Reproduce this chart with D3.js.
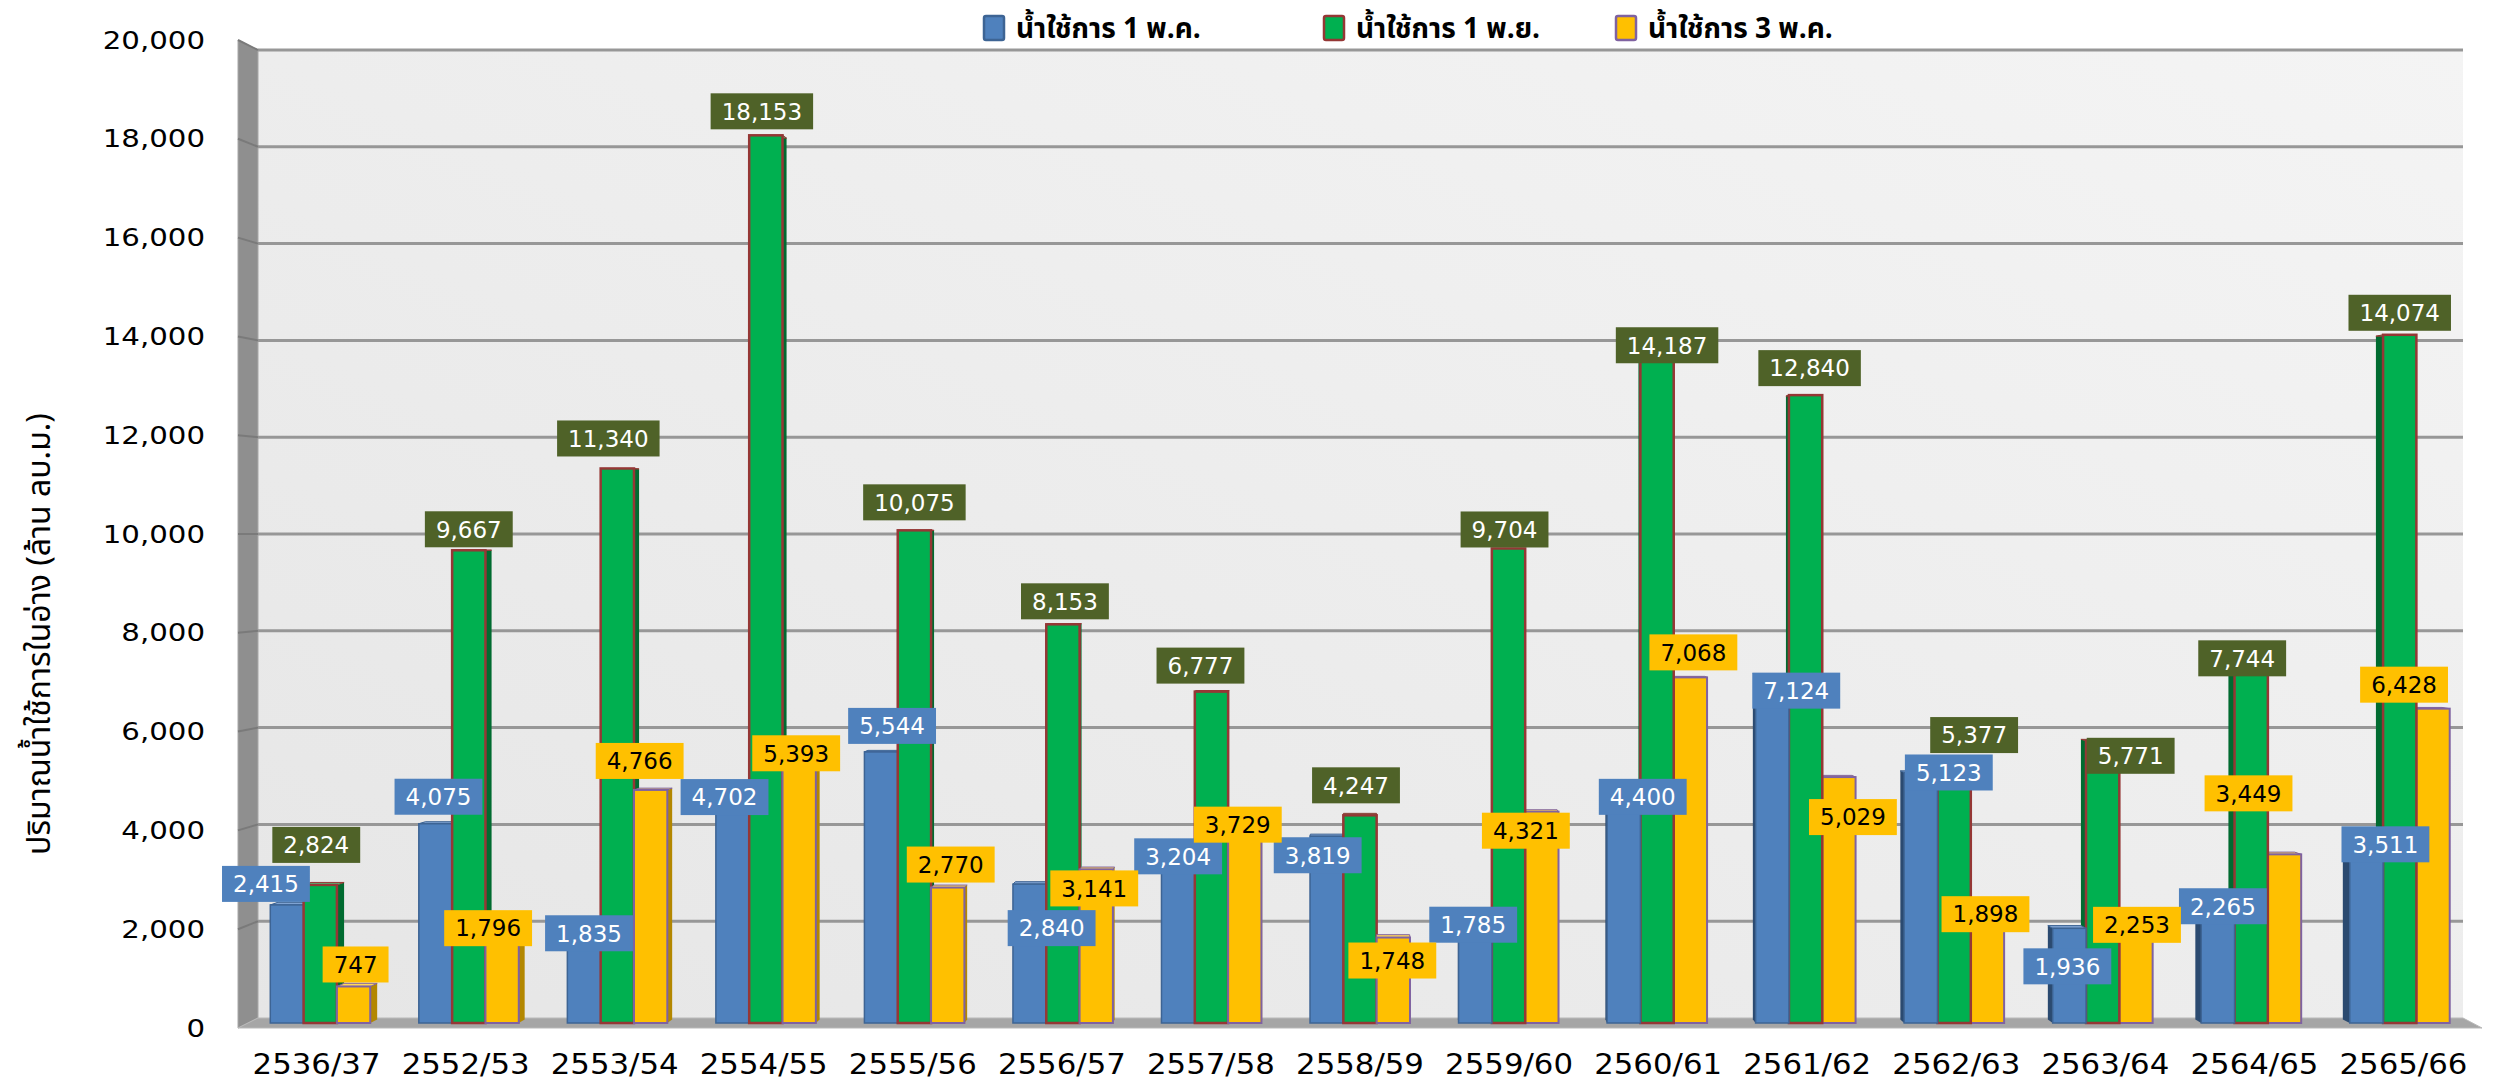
<!DOCTYPE html>
<html lang="th">
<head>
<meta charset="utf-8">
<title>ปริมาณน้ำใช้การในอ่าง</title>
<style>
  body { margin: 0; background: #fff; }
  text { font-family: "DejaVu Sans", Verdana, sans-serif; }
  .thai { font-family: "Noto Sans Thai", "Noto Serif Thai", Garuda, Loma, Tahoma, "DejaVu Sans", sans-serif; }
</style>
</head>
<body>
<div id="vis"></div>
<script src="https://d3js.org/d3.v7.min.js"></script>
<script>
// data
const years = ["2536/37", "2552/53", "2553/54", "2554/55", "2555/56", "2556/57", "2557/58", "2558/59",
  "2559/60", "2560/61", "2561/62", "2562/63", "2563/64", "2564/65", "2565/66"];
const may1 = [2415, 4075, 1835, 4702, 5544, 2840, 3204, 3819, 1785, 4400, 7124, 5123, 1936, 2265, 3511];
const nov1 = [2824, 9667, 11340, 18153, 10075, 8153, 6777, 4247, 9704, 14187, 12840, 5377, 5771, 7744, 14074];
const may3 = [747, 1796, 4766, 5393, 2770, 3141, 3729, 1748, 4321, 7068, 5029, 1898, 2253, 3449, 6428];
const seriesNames = ["น้ำใช้การ 1  พ.ค.", "น้ำใช้การ 1 พ.ย.", "น้ำใช้การ 3 พ.ค."];
const yTicks = d3.range(0, 20001, 2000);
const yTitle = "ปริมาณน้ำใช้การในอ่าง (ล้าน ลบ.ม.)";

// label nudges (px) from bar top centre, labels were hand placed in the original
const nudgeMay1 = [[-21,-21],[3,-27],[5,0],[-8,4],[11,-26],[22,44],[0,-10],[-9,19],[-2,-11],[19,-11],[24,16],[28,0],[-2,38],[5,-6],[19,-7]];
const nudgeNov1 = [[-4,-40],[0,-21],[-9,-30],[-4,-24],[0,-28],[2,-23],[-11,-26],[-4,-30],[-4,-19],[10,16],[4,-27],[20,-25],[28,15],[-9,14],[0,-22]];
const nudgeMay3 = [[2,-22],[-14,-7],[-11,-29],[-3,-6],[3,-23],[-2,19],[-7,-16],[-1,23],[-16,19],[3,-25],[14,40],[-2,-16],[1,12],[-36,-61],[-29,-24]];

const W = 2501, H = 1081;
const V = [1360, 534];   // vanishing point
const kd = 0.007;        // bar depth

const series = [
  {vals: may1, nudge: nudgeMay1, front: "#4f81bd", side: "#2b4a70", top: "#7fa3d2", stroke: "#3d6494", sw: 1.5, lab: "#4f81bd", txt: "#fff"},
  {vals: nov1, nudge: nudgeNov1, front: "#00b050", side: "#006b30", top: "#45d184", stroke: "#953735", sw: 2.5, lab: "#4f6228", txt: "#fff"},
  {vals: may3, nudge: nudgeMay3, front: "#ffc000", side: "#b38700", top: "#ffd75a", stroke: "#7f62a1", sw: 2, lab: "#ffc000", txt: "#000"}
];

const svg = d3.select("#vis").append("svg").attr("width", W).attr("height", H);
const defs = svg.append("defs");
const grad = defs.append("linearGradient").attr("id", "wall").attr("x1", 0).attr("y1", 1).attr("x2", 1).attr("y2", 0);
grad.append("stop").attr("offset", 0).attr("stop-color", "#e6e6e6");
grad.append("stop").attr("offset", 1).attr("stop-color", "#f4f4f4");

// scales: back wall, bar plane, front plane
const yBack = d3.scaleLinear().domain([0, 20000]).range([1018, 50]);
const yMid = d3.scaleLinear().domain([0, 20000]).range([1023, 45]);
const yFront = d3.scaleLinear().domain([0, 20000]).range([1028, 40]);
const x = d3.scaleBand().domain(years).range([246, 2474]).paddingInner(0.327).paddingOuter(0.1635);
const xFront = d3.scaleBand().domain(years).range([242, 2478]).paddingInner(0.327).paddingOuter(0.1635);
const xs = d3.scaleBand().domain([0, 1, 2]).range([0, x.bandwidth()]);

// walls
svg.append("rect").attr("x", 258).attr("y", 50).attr("width", 2463 - 258).attr("height", 1018 - 50).attr("fill", "url(#wall)");
svg.append("polygon").attr("points", "238,40 258,50 258,1018 238,1028").attr("fill", "#8f8f8f").attr("stroke", "#a8a8a8").attr("stroke-width", 1);
svg.append("polygon").attr("points", "258,1018 2463,1018 2482,1028 238,1028").attr("fill", "#a6a6a6").attr("stroke", "#b9b9b9").attr("stroke-width", 1);

// gridlines
const grid = svg.append("g");
grid.selectAll("line.g").data(yTicks.filter(d => d > 0)).join("line")
  .attr("x1", 258).attr("x2", 2463).attr("y1", d => yBack(d)).attr("y2", d => yBack(d))
  .attr("stroke", "#979797").attr("stroke-width", 3);
grid.selectAll("line.w").data(yTicks.filter(d => d > 0)).join("line").attr("class", "w")
  .attr("x1", 238).attr("x2", 258).attr("y1", d => yFront(d)).attr("y2", d => yBack(d))
  .attr("stroke", "#7a7a7a").attr("stroke-width", 2);

// bars
const back = p => [p[0] + kd * (V[0] - p[0]), p[1] + kd * (V[1] - p[1])];
const pts = a => a.map(p => p.join(",")).join(" ");
const bars = svg.append("g");
years.forEach((yr, i) => {
  let order = [0, 1, 2];
  if (x(yr) + x.bandwidth() / 2 > V[0]) order = [2, 1, 0];
  order.forEach(s => {
    const S = series[s];
    const x0 = x(yr) + xs(s), w = xs.bandwidth();
    const y0 = yMid(S.vals[i]), y1 = yMid(0);
    const tl = [x0, y0], tr = [x0 + w, y0], br = [x0 + w, y1], bl = [x0, y1];
    const g = bars.append("g");
    g.append("polygon").attr("points", pts([tl, bl, back(bl), back(tl)])).attr("fill", S.side);
    g.append("polygon").attr("points", pts([tr, br, back(br), back(tr)])).attr("fill", S.side);
    g.append("polygon").attr("points", pts([tl, tr, back(tr), back(tl)])).attr("fill", S.top).attr("stroke", S.stroke).attr("stroke-width", 1);
    g.append("rect").attr("x", x0).attr("y", y0).attr("width", w).attr("height", y1 - y0)
      .attr("fill", S.front).attr("stroke", S.stroke).attr("stroke-width", S.sw);
  });
});

// value labels
const fmt = d3.format(",");
const labels = svg.append("g");
series.forEach((S, s) => {
  years.forEach((yr, i) => {
    const cx = x(yr) + xs(s) + xs.bandwidth() / 2 + S.nudge[i][0];
    const cy = yMid(S.vals[i]) + S.nudge[i][1];
    const g = labels.append("g").attr("transform", `translate(${cx},${cy})`);
    const r = g.append("rect").attr("fill", S.lab);
    const t = g.append("text").attr("text-anchor", "middle").attr("dy", "0.36em")
      .attr("font-size", 23).attr("fill", S.txt).text(fmt(S.vals[i]));
    const tw = t.node().getComputedTextLength() + 22;
    r.attr("x", -tw / 2).attr("y", -18).attr("width", tw).attr("height", 36);
  });
});

// axes
const yAxis = svg.append("g").attr("transform", "translate(205,0)")
  .call(d3.axisLeft(yFront).tickValues(yTicks).tickFormat(fmt).tickSize(0).tickPadding(0));
yAxis.select(".domain").remove();
yAxis.selectAll("text").attr("font-size", 25).attr("fill", "#000").attr("transform", "scale(1.17,1)")
  .style("font-family", "'DejaVu Sans', Verdana, sans-serif");

const xAxis = svg.append("g").attr("transform", "translate(0,1054)")
  .call(d3.axisBottom(xFront).tickSize(0).tickPadding(0));
xAxis.select(".domain").remove();
xAxis.selectAll("text").attr("font-size", 27.5).attr("fill", "#000").attr("transform", "scale(1.12,1)")
  .style("font-family", "'DejaVu Sans', Verdana, sans-serif");

// y title
svg.append("text").attr("class", "thai").attr("transform", "translate(50,634) rotate(-90)")
  .attr("text-anchor", "middle").attr("font-size", 32).attr("fill", "#000").text(yTitle);

// legend
const legX = [984, 1324, 1616];
const leg = svg.append("g").selectAll("g").data(series).join("g")
  .attr("transform", (d, i) => `translate(${legX[i]},16)`);
leg.append("rect").attr("width", 20).attr("height", 24).attr("rx", 2)
  .attr("fill", d => d.front).attr("stroke", d => d.stroke).attr("stroke-width", 2.5);
leg.append("text").attr("class", "thai").attr("x", 32).attr("y", 22).attr("font-size", 28).attr("font-weight", "bold")
  .attr("fill", "#000").text((d, i) => seriesNames[i]);
</script>
</body>
</html>
